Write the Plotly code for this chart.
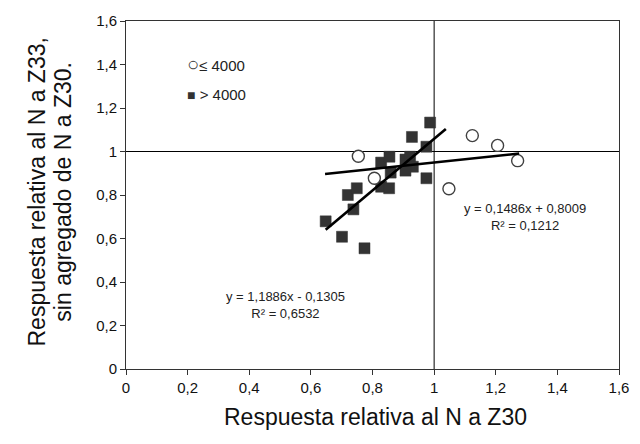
import plotly.graph_objects as go

# Observations, split by threshold (≤ 4000 / > 4000)
low_x = [0.754, 0.806, 1.048, 1.124, 1.206, 1.271]
low_y = [0.978, 0.877, 0.829, 1.073, 1.028, 0.958]

high_x = [0.648, 0.701, 0.774, 0.738, 0.720, 0.749, 0.828, 0.854, 0.859, 0.828,
          0.855, 0.907, 0.922, 0.931, 0.907, 0.975, 0.975, 0.928, 0.987]
high_y = [0.679, 0.608, 0.555, 0.734, 0.800, 0.831, 0.838, 0.831, 0.903, 0.949,
          0.976, 0.963, 0.976, 0.930, 0.912, 1.022, 0.877, 1.067, 1.133]

# Linear fits (slope, intercept, R²) and the x span each line covers
low_fit = (0.1486, 0.8009, 0.1212)
low_span = [0.646, 1.276]
high_fit = (1.1886, -0.1305, 0.6532)
high_span = [0.648, 1.038]

tick_vals = [0, 0.2, 0.4, 0.6, 0.8, 1.0, 1.2, 1.4, 1.6]
tick_text = ["0", "0,2", "0,4", "0,6", "0,8", "1", "1,2", "1,4", "1,6"]

FONT = "Liberation Sans, Arial, sans-serif"


def fmt(v):
    return f"{abs(v):.4f}".replace(".", ",")


def fit_label(fit):
    m, b, r2 = fit
    sign = "+" if b >= 0 else "-"
    return f"y = {fmt(m)}x {sign} {fmt(b)}<br>R² = {fmt(r2)}"


def line_y(fit, xs):
    return [fit[0] * x + fit[1] for x in xs]


fig = go.Figure()

fig.add_trace(go.Scatter(
    x=high_x, y=high_y, mode="markers", name="> 4000", showlegend=False,
    marker=dict(symbol="square", size=11, color="#333333",
                line=dict(color="#333333", width=0.5)),
))
fig.add_trace(go.Scatter(
    x=low_x, y=low_y, mode="markers", name="≤ 4000", showlegend=False,
    marker=dict(symbol="circle", size=12, color="white",
                line=dict(color="#404040", width=1.4)),
))
fig.add_trace(go.Scatter(
    x=high_span, y=line_y(high_fit, high_span), mode="lines", showlegend=False,
    line=dict(color="black", width=2.6),
))
fig.add_trace(go.Scatter(
    x=low_span, y=line_y(low_fit, low_span), mode="lines", showlegend=False,
    line=dict(color="black", width=2.6),
))

# Reference lines at 1 on both axes
fig.add_shape(type="line", xref="x", yref="y", x0=1, x1=1, y0=0, y1=1.6,
              line=dict(color="black", width=1), layer="below")
fig.add_shape(type="line", xref="x", yref="y", x0=0, x1=1.6, y0=1, y1=1,
              line=dict(color="black", width=1), layer="below")

# Fit equations
fig.add_annotation(x=0.519, y=0.292, xref="x", yref="y", text=fit_label(high_fit),
                   showarrow=False, font=dict(family=FONT, size=13, color="#222"),
                   align="center")
fig.add_annotation(x=1.295, y=0.701, xref="x", yref="y", text=fit_label(low_fit),
                   showarrow=False, font=dict(family=FONT, size=13, color="#222"),
                   align="center")

# Key
fig.add_annotation(x=0.190, y=1.402, xref="x", yref="y", xanchor="left",
                   text='<span style="font-size:20px;color:#404040">○</span>≤ 4000',
                   showarrow=False, font=dict(family=FONT, size=15, color="#222"))
fig.add_annotation(x=0.192, y=1.264, xref="x", yref="y", xanchor="left",
                   text='<span style="font-size:14px;color:#333333">■</span> > 4000',
                   showarrow=False, font=dict(family=FONT, size=15, color="#222"))

# Axis titles
fig.add_annotation(x=0.507, y=-0.181, xref="paper", yref="paper",
                   text="Respuesta relativa al N a Z30", showarrow=False,
                   font=dict(family=FONT, size=23, color="#111"))
fig.add_annotation(x=-0.211, y=0.51, xref="paper", yref="paper", textangle=-90,
                   text="Respuesta relativa al N a Z33,", showarrow=False,
                   font=dict(family=FONT, size=23, color="#111"))
fig.add_annotation(x=-0.160, y=0.51, xref="paper", yref="paper", textangle=-90,
                   text="sin agregado de N a Z30.", showarrow=False,
                   font=dict(family=FONT, size=23, color="#111"))

axis_common = dict(
    range=[0, 1.6], tickvals=tick_vals, ticktext=tick_text,
    showgrid=False, zeroline=False, ticks="outside", ticklen=5,
    tickcolor="#333", showline=True, linecolor="#333", linewidth=1,
    mirror=True, tickfont=dict(family=FONT, size=15, color="#111"),
)

fig.update_layout(
    width=640, height=444,
    margin=dict(l=126, r=21, t=21, b=75),
    paper_bgcolor="white", plot_bgcolor="white",
    xaxis=dict(**axis_common),
    yaxis=dict(**axis_common),
    showlegend=False,
)

fig.write_html("out.html")
